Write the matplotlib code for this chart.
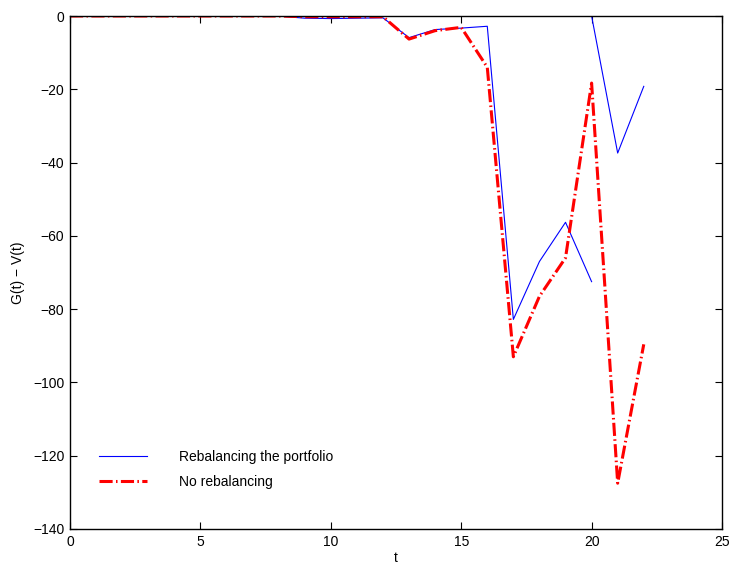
import matplotlib
matplotlib.use("Agg")
import matplotlib.pyplot as plt
import numpy as np

plt.rcParams['font.family'] = ['Liberation Sans', 'DejaVu Sans']

# Data
t_rebal = [0, 1, 2, 3, 4, 5, 6, 7, 8, 9, 10, 11, 12, 13, 14, 15, 16, 17, 18, 19, 20,
           20, 20, 21, 22]
v_rebal = [0, 0, 0, 0, 0, 0, 0, 0, 0, -0.6, -0.7, -0.6, -0.5, -5.9, -3.7, -3.3, -2.8,
           -82.8, -67.0, -56.3, -72.5,
           np.nan, 0.0, -37.4, -19.2]
t_norebal = list(range(0, 23))
v_norebal = [0, 0, 0, 0, 0, 0, 0, 0, 0, -0.2, -0.2, -0.2, -0.2, -6.3, -4.0, -3.1, -14.0,
             -93.0, -76.5, -66.0, -18.3, -127.5, -89.6]

xticks = [0, 5, 10, 15, 20, 25]
yticks = [0, -20, -40, -60, -80, -100, -120, -140]

fig = plt.figure(figsize=(7.29, 5.64), dpi=100)
ax = fig.add_axes([70/729, 1 - 529/564, (722-70)/729, (529-16)/564])

ax.plot(t_rebal, v_rebal, color=(0, 0, 1), lw=0.8, label='Rebalancing the portfolio')
ax.plot(t_norebal, v_norebal, color=(1, 0, 0), lw=2.2,
        dashes=(4.3, 1.1, 0.5, 1.1), label='No rebalancing')

ax.set_xlim(0, 25)
ax.set_ylim(-140, 0)
ax.set_xticks(xticks)
ax.set_yticks(yticks)
ax.tick_params(direction='in', top=True, right=True, length=5, width=0.8, labelsize=10, pad=4)
for s in ax.spines.values():
    s.set_linewidth(1.0)
ax.set_xlabel('t', fontsize=10, labelpad=2)
ax.set_ylabel('G(t) − V(t)', fontsize=10, labelpad=6)

leg = ax.legend(loc='lower left', bbox_to_anchor=(0.025, 0.053), frameon=False,
                fontsize=10, handlelength=3.5, handletextpad=2.3, labelspacing=0.8)

fig.savefig('out.png', dpi=100)
